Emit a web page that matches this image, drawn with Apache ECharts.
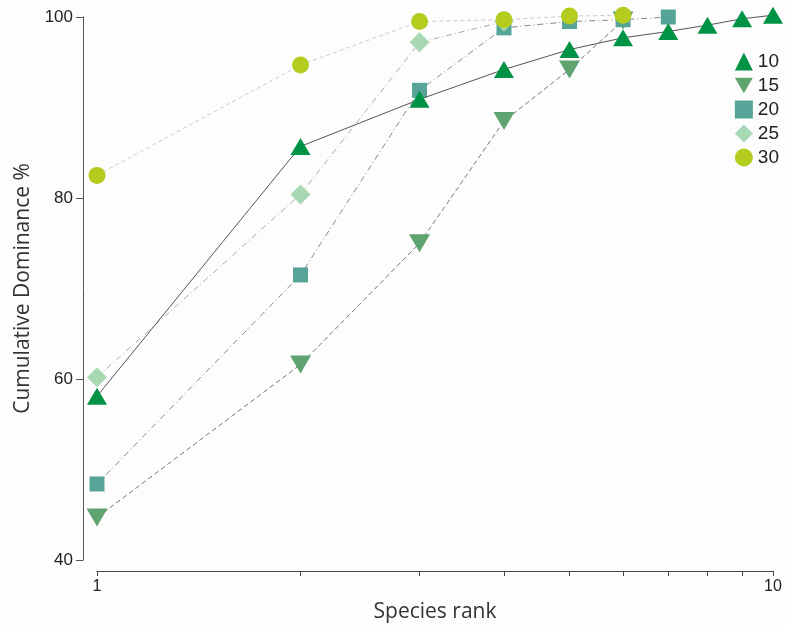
<!DOCTYPE html>
<html>
<head>
<meta charset="utf-8">
<script src="https://cdn.jsdelivr.net/npm/echarts@6/dist/echarts.min.js"></script>
<style>
  html, body { margin: 0; padding: 0; background: #fdfdfd; }
  #chart { width: 785px; height: 628px; }
</style>
</head>
<body>
<div id="chart"></div>
<script>
// species rank (x, log scale)
const ranks = [1, 2, 3, 4, 5, 6, 7, 8, 9, 10]
const rankTicks = [1, 2, 3, 4, 5, 6, 7, 8, 9, 10]
const rankLabels = [1, 10]

// cumulative dominance % per group
const d10 = [58.1, 85.7, 90.9, 94.2, 96.4, 97.7, 98.4, 99.1, 99.8, 100.2]
const d15 = [44.7, 61.6, 75.0, 88.5, 94.2, 99.6]
const d20 = [48.4, 71.5, 91.9, 98.8, 99.5, 99.7, 100.0]
const d25 = [60.2, 80.4, 97.2, 99.5]
const d30 = [82.5, 94.7, 99.5, 99.7, 100.1, 100.2]

const downTri = 'path://M0,0 L20,0 L10,17 Z'

const chart = echarts.init(document.getElementById('chart'))

const pairs = vals => vals.map((v, i) => [ranks[i], v])

const mk = (name, vals, symbol, size, color, lineColor, dash, z) => ({
  name,
  type: 'line',
  data: pairs(vals),
  symbol,
  symbolSize: size,
  z,
  clip: false,
  itemStyle: { color },
  lineStyle: { color: lineColor, width: 1, type: dash },
  emphasis: { disabled: true },
  animation: false
})

const option = {
  backgroundColor: '#fdfdfd',
  grid: { left: 97, right: 12, top: 17, bottom: 65 },
  legend: {
    orient: 'vertical',
    right: 1,
    top: 47,
    itemGap: 5,
    itemWidth: 18,
    itemHeight: 18,
    textStyle: { fontSize: 19, lineHeight: 19, color: '#222', fontFamily: 'Liberation Sans' },
    data: [
      { name: '10', icon: 'triangle' },
      { name: '15', icon: downTri },
      { name: '20', icon: 'rect' },
      { name: '25', icon: 'diamond' },
      { name: '30', icon: 'circle' }
    ]
  },
  xAxis: {
    type: 'log',
    logBase: 10,
    min: 1,
    max: 10,
    offset: 11,
    name: 'Species rank',
    nameLocation: 'middle',
    nameGap: 31,
    nameTextStyle: { fontSize: 21, color: '#333', fontFamily: 'Open Sans' },
    axisLine: { lineStyle: { color: '#444', width: 1 } },
    axisTick: { length: 5, lineStyle: { color: '#444' }, customValues: rankTicks },
    axisLabel: { customValues: rankLabels, fontSize: 16, color: '#222', margin: 8, fontFamily: 'Liberation Sans' },
    splitLine: { show: false }
  },
  yAxis: {
    type: 'value',
    min: 40,
    max: 100,
    interval: 20,
    offset: 14,
    name: 'Cumulative Dominance %',
    nameLocation: 'middle',
    nameGap: 40,
    nameTextStyle: { fontSize: 21, color: '#333', fontFamily: 'Open Sans' },
    axisLine: { show: true, lineStyle: { color: '#555', width: 1 } },
    axisTick: { show: true, length: 7, lineStyle: { color: '#555' } },
    axisLabel: { fontSize: 17, color: '#222', margin: 10, fontFamily: 'Liberation Sans' },
    splitLine: { show: false }
  },
  series: [
    mk('10', d10, 'triangle', [20, 17], '#009245', '#555', 'solid', 4),
    mk('15', d15, downTri, [21, 18], '#5fa470', '#777', [5, 3], 1),
    mk('20', d20, 'rect', [15, 15], '#56a497', '#888', [6, 3, 1, 3], 2),
    mk('25', d25, 'diamond', [20, 20], '#a8d8b2', '#aaa', [6, 3, 1, 3], 3),
    mk('30', d30, 'circle', 17, '#b3cc1e', '#ccc', [4, 3], 5)
  ]
}

chart.setOption(option)
</script>
</body>
</html>
